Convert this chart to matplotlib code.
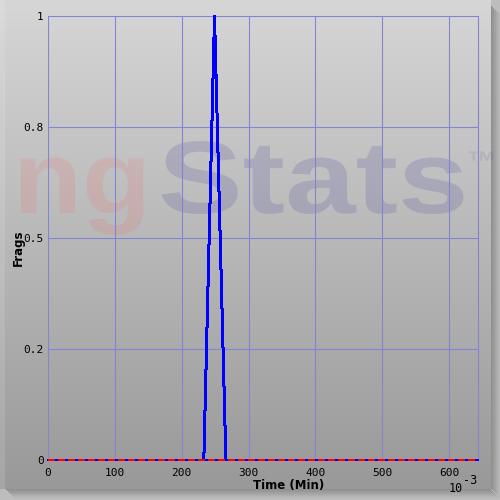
import numpy as np
import matplotlib
matplotlib.use("Agg")
import matplotlib.pyplot as plt
from matplotlib.textpath import TextPath
from matplotlib.patches import PathPatch
from matplotlib.font_manager import FontProperties
import matplotlib.transforms as mtransforms

plt.rcParams["lines.scale_dashes"] = False

# ---- data ----
time_x = [0, 233, 249, 266, 643]          # Time (Min) x 10^-3
frags_y = [0, 0, 1, 0, 0]                 # blue series
zero_x = [0, 643]
zero_y = [0, 0]                           # red dashed series
xticks = [0, 100, 200, 300, 400, 500, 600]
xtick_labels = ["0", "100", "200", "300", "400", "500", "600"]
yticks = [0, 0.25, 0.5, 0.75, 1]
ytick_labels = ["0", "0.2", "0.5", "0.8", "1"]

W = H = 500
fig = plt.figure(figsize=(5, 5), dpi=100)
fig.patch.set_facecolor("#bdbdbd")

# background panel with gradient
bg = fig.add_axes([0, 0, 1, 1])
bg.set_xlim(0, W)
bg.set_ylim(H, 0)
bg.axis("off")
grad = np.linspace(0, 1, 256)[:, None]
top = np.array([0.84, 0.84, 0.84])
bot = np.array([0.60, 0.60, 0.60])
img = top[None, None, :] * (1 - grad[:, :, None]) + bot[None, None, :] * grad[:, :, None]
bg.imshow(img, extent=[0, 491, 489, 0], aspect="auto", zorder=1)
# shadow bands right and bottom
for i in range(9):
    a = 0.45 * (1 - i / 9)
    bg.add_patch(plt.Rectangle((491 + i, 6 + i), 1, 483, color=(0.35, 0.35, 0.35), alpha=a, zorder=2, lw=0))
    bg.add_patch(plt.Rectangle((6 + i, 489 + i), 485, 1, color=(0.35, 0.35, 0.35), alpha=a, zorder=2, lw=0))
# left highlight
bg.add_patch(plt.Rectangle((0, 0), 5, 489, color="white", alpha=0.12, zorder=2, lw=0))

# watermark
fp = FontProperties(family="Liberation Sans", weight="bold")
def wm(text, x, y, sx, sy, color, alpha):
    tp = TextPath((0, 0), text, size=100, prop=fp)
    tr = mtransforms.Affine2D().scale(sx, -sy).translate(x, y) + bg.transData
    bg.add_patch(PathPatch(tp, transform=tr, facecolor=color, alpha=alpha, edgecolor="none", zorder=3))
wm("ng", 13, 213, 1.13, 1.03, (1.0, 0.35, 0.35), 0.14)
wm("Stats", 158, 213, 1.27, 1.03, (0.30, 0.30, 0.62), 0.20)
wm("\u2122", 467, 172, 0.30, 0.30, (0.30, 0.30, 0.62), 0.12)

# plot axes
L, R, T, B = 48, 478, 16, 460
ax = fig.add_axes([L / W, 1 - B / H, (R - L) / W, (B - T) / H])
ax.patch.set_alpha(0)
ax.set_xlim(0, 643)
ax.set_ylim(0, 1)
gridc = "#8484d4"
for s in ["bottom", "left", "top"]:
    ax.spines[s].set_visible(False)
ax.spines["right"].set_color(gridc)
ax.spines["right"].set_linewidth(0.8)
ax.set_xticks(xticks)
ax.set_xticklabels(xtick_labels)
ax.set_yticks(yticks)
ax.set_yticklabels(ytick_labels)
ax.tick_params(axis="x", length=0, labelsize=8, pad=6)
ax.tick_params(axis="y", length=0, labelsize=8, pad=3)
for lab in ax.get_xticklabels() + ax.get_yticklabels():
    lab.set_family("DejaVu Sans Mono")
ax.grid(True, color=gridc, lw=0.8)
ax.set_axisbelow(True)

lw = 1.44
ax.plot(time_x, frags_y, color="#0000ff", lw=lw, zorder=4, clip_on=False, antialiased=False)
ax.plot(zero_x, zero_y, color="#0000ff", lw=lw, zorder=4, clip_on=False, antialiased=False)
ax.plot(zero_x, zero_y, color="#ff0000", lw=lw, ls=(0, (5.0, 2.2)), zorder=5, clip_on=False, antialiased=False)

fig.text(18 / W, 1 - 248 / H, "Frags", rotation=90, ha="center", va="center",
         fontsize=8.5, fontweight="bold", family="DejaVu Sans")
fig.text(289 / W, 1 - 485 / H, "Time (Min)", ha="center", va="center",
         fontsize=8.5, fontweight="bold", family="DejaVu Sans")
fig.text(449 / W, 1 - 488 / H, "10", ha="left", va="center", fontsize=8.5, family="DejaVu Sans Mono")
fig.text(463 / W, 1 - 481 / H, "-3", ha="left", va="center", fontsize=8.5, family="DejaVu Sans Mono")

fig.savefig("out.png", dpi=100)
